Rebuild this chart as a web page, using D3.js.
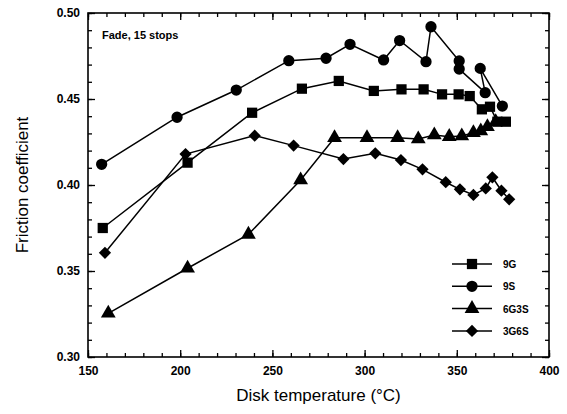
<!DOCTYPE html>
<html>
<head>
<meta charset="utf-8">
<script src="https://cdnjs.cloudflare.com/ajax/libs/d3/7.8.5/d3.min.js"></script>
<style>
	body { margin: 0; background: #fff; }
	.container svg { display: block; }
	text { font-family: "Liberation Sans", Arial, sans-serif; }
</style>
</head>
<body>
<div class="container"></div>
<script>

// data (disk temperature in degC, friction coefficient)
var temp9G = [158, 204, 239, 266, 286, 305, 320, 332, 342, 351, 357, 363.6, 368, 372, 376.6];
var mu9G = [0.375, 0.413, 0.442, 0.456, 0.4605, 0.4547, 0.4556, 0.4556, 0.4527, 0.4527, 0.4517, 0.444, 0.4455, 0.4368, 0.4368];

var temp9S = [157.4, 198.3, 230.4, 258.9, 279.1, 292.1, 310.3, 319, 333.3, 336, 351.3, 351.3, 365.4, 362.7, 374.7];
var mu9S = [0.412, 0.4394, 0.4552, 0.4723, 0.4737, 0.4818, 0.4727, 0.484, 0.4717, 0.492, 0.4721, 0.4674, 0.4537, 0.4678, 0.4459];

var temp6G3S = [161, 204, 237, 265.3, 283.7, 301.3, 317.9, 329.1, 337.8, 345.9, 352.7, 359, 363, 366.6, 371.1];
var mu6G3S = [0.3254, 0.3516, 0.3713, 0.4029, 0.4275, 0.4275, 0.4275, 0.4267, 0.4291, 0.4281, 0.4285, 0.4304, 0.4314, 0.4339, 0.4368];

var temp3G6S = [159.2, 202.9, 240.4, 261.5, 288.5, 305.8, 319.7, 331.4, 344, 351.7, 359, 365.7, 369.3, 374.2, 378.4];
var mu3G6S = [0.3606, 0.418, 0.4287, 0.4229, 0.4151, 0.4184, 0.4145, 0.4091, 0.4016, 0.3975, 0.3942, 0.398, 0.4045, 0.3967, 0.3917];

var seriesNames = ["9G", "9S", "6G3S", "3G6S"];
var xTicks = [150, 200, 250, 300, 350, 400];
var yTicks = [0.30, 0.35, 0.40, 0.45, 0.50];

var W = 567, H = 414;
var mLeft = 88, mRight = 549, mTop = 13, mBottom = 357;

function makeStage(w, h) {
	var stage = d3.select(".container")
				  .insert("svg")
				  .attr("width", w)
				  .attr("height", h);
	return stage;
}

// diamond in the figure is a square turned 45 degrees
function markerPath(name, size) {
	var types = {"9G": d3.symbolSquare, "9S": d3.symbolCircle,
				 "6G3S": d3.symbolTriangle, "3G6S": d3.symbolSquare};
	return d3.symbol().type(types[name]).size(size)();
}

var markerSize = {"9G": 105, "9S": 100, "6G3S": 95, "3G6S": 75};
var markerRot = {"9G": 0, "9S": 0, "6G3S": 0, "3G6S": 45};

var stage = makeStage(W, H);

var x = d3.scaleLinear().domain([150, 400]).range([mLeft, mRight]);
var y = d3.scaleLinear().domain([0.30, 0.50]).range([mBottom, mTop]);

// minor ticks every 10 degC / 0.01, majors a bit longer, all pointing inward
var xMinor = d3.range(150, 401, 10);
var yMinor = d3.range(30, 51).map(function (d) { return d / 100; });

function drawAxis(axisFn, scale, tx, ty, values, size) {
	var g = stage.append("g")
		.attr("transform", "translate(" + tx + "," + ty + ")")
		.call(axisFn(scale).tickValues(values).tickSize(size).tickFormat(""));
	g.select(".domain").remove();
	g.selectAll("line").attr("stroke", "#000").attr("stroke-width", 1.3);
	return g;
}

drawAxis(d3.axisBottom, x, 0, mBottom, xMinor, -4);
drawAxis(d3.axisBottom, x, 0, mBottom, xTicks, -7);
drawAxis(d3.axisTop, x, 0, mTop, xMinor, -4);
drawAxis(d3.axisTop, x, 0, mTop, xTicks, -7);
drawAxis(d3.axisLeft, y, mLeft, 0, yMinor, -4);
drawAxis(d3.axisLeft, y, mLeft, 0, yTicks, -7);
drawAxis(d3.axisRight, y, mRight, 0, yMinor, -4);
drawAxis(d3.axisRight, y, mRight, 0, yTicks, -7);

// tick labels
var xl = stage.append("g")
	.attr("transform", "translate(0," + mBottom + ")")
	.call(d3.axisBottom(x).tickValues(xTicks).tickSize(0).tickPadding(9)
		.tickFormat(d3.format("d")));
xl.select(".domain").remove();
xl.selectAll("text").attr("font-size", 12).attr("font-weight", "bold")
	.attr("font-family", "Liberation Sans, Arial, sans-serif").attr("fill", "#000");

var yl = stage.append("g")
	.attr("transform", "translate(" + mLeft + ",0)")
	.call(d3.axisLeft(y).tickValues(yTicks).tickSize(0).tickPadding(8)
		.tickFormat(d3.format(".2f")));
yl.select(".domain").remove();
yl.selectAll("text").attr("font-size", 12).attr("font-weight", "bold")
	.attr("font-family", "Liberation Sans, Arial, sans-serif").attr("fill", "#000");

// frame
stage.append("rect")
	.attr("x", mLeft).attr("y", mTop)
	.attr("width", mRight - mLeft).attr("height", mBottom - mTop)
	.attr("fill", "none").attr("stroke", "#000").attr("stroke-width", 1.6);

// series
var series = [
	{"name": "9G", "t": temp9G, "mu": mu9G},
	{"name": "9S", "t": temp9S, "mu": mu9S},
	{"name": "6G3S", "t": temp6G3S, "mu": mu6G3S},
	{"name": "3G6S", "t": temp3G6S, "mu": mu3G6S}
];

var line = d3.line()
	.x(function (d) { return x(d[0]); })
	.y(function (d) { return y(d[1]); });

series.forEach(function (s) {
	var pts = d3.zip(s.t, s.mu);
	stage.append("path")
		.attr("d", line(pts))
		.attr("fill", "none")
		.attr("stroke", "#000")
		.attr("stroke-width", 1.5);
	stage.append("g").selectAll("path")
		.data(pts)
		.enter().append("path")
		.attr("transform", function (d) {
			return "translate(" + x(d[0]) + "," + y(d[1]) + ") rotate(" + markerRot[s.name] + ")";
		})
		.attr("d", markerPath(s.name, markerSize[s.name]))
		.attr("fill", "#000");
});

// annotation
stage.append("text")
	.attr("x", 102).attr("y", 39)
	.attr("font-size", 11).attr("font-weight", "bold")
	.text("Fade, 15 stops");

// legend
var legend = stage.append("g");
seriesNames.forEach(function (name, i) {
	var ly = 264 + i * 22.3;
	legend.append("line")
		.attr("x1", 452).attr("x2", 492)
		.attr("y1", ly).attr("y2", ly)
		.attr("stroke", "#000").attr("stroke-width", 1.5);
	legend.append("path")
		.attr("transform", "translate(472," + ly + ") rotate(" + markerRot[name] + ")")
		.attr("d", markerPath(name, markerSize[name]))
		.attr("fill", "#000");
	legend.append("text")
		.attr("x", 503).attr("y", ly + 4)
		.attr("font-size", 10).attr("font-weight", "bold")
		.text(name);
});

// axis titles
stage.append("text")
	.attr("x", (mLeft + mRight) / 2).attr("y", 401)
	.attr("text-anchor", "middle")
	.attr("font-size", 17)
	.text("Disk temperature (\u00B0C)");

stage.append("text")
	.attr("transform", "translate(28," + (mTop + mBottom) / 2 + ") rotate(-90)")
	.attr("text-anchor", "middle")
	.attr("font-size", 17)
	.text("Friction coefficient");

</script>
</body>
</html>
